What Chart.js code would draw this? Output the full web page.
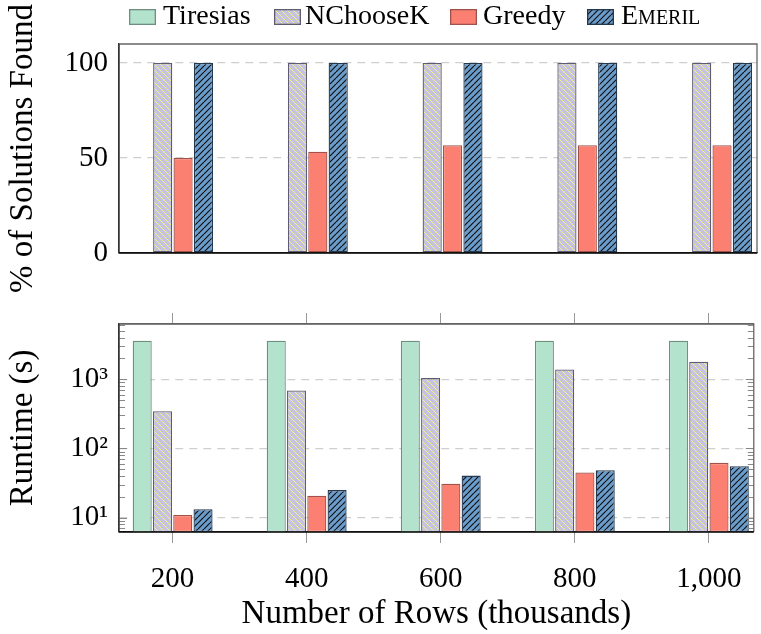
<!DOCTYPE html>
<html>
<head>
<meta charset="utf-8">
<script src="https://cdn.jsdelivr.net/npm/chart.js@4.4.0/dist/chart.umd.min.js"></script>
<style>
  body { margin: 0; background: #fff; }
  #wrap { position: relative; width: 761px; height: 634px; overflow: hidden; font-family: "Liberation Serif", serif; }
  #solved { position: absolute; left: 0; top: 0; }
  #runtime { position: absolute; left: 0; top: 283px; }
  .sw { position: absolute; top: 9px; }
  .lbl { position: absolute; top: 1px; font-size: 28px; line-height: 28px; color: #000; white-space: nowrap; }
  .sc { font-variant: small-caps; }
</style>
</head>
<body>
<div id="wrap">
  <canvas id="solved" width="761" height="300"></canvas>
  <canvas id="runtime" width="761" height="351"></canvas>
  <div id="legend"></div>
</div>
<script>
// rows per table, in thousands
var rows = [200, 400, 600, 800, 1000];

// % of instances where a solution was found
var solvedTiresias = [0, 0, 0, 0, 0];
var solvedNChooseK = [100, 100, 100, 100, 100];
var solvedGreedy = [50, 53.3, 56.7, 56.7, 56.7];
var solvedEmeril = [100, 100, 100, 100, 100];

// runtime in seconds (log axis)
var runtimeTiresias = [3600, 3600, 3600, 3600, 3600];
var runtimeNChooseK = [345, 690, 1040, 1390, 1800];
var runtimeGreedy = [10.9, 20.8, 31, 45, 62];
var runtimeEmeril = [13.2, 25, 40.5, 48.4, 55.3];

var solvedTicks = [0, 50, 100];
var runtimeMajor = [10, 100, 1000];

var F = '"Liberation Serif", serif';
var SUP = {1: '\u00b9', 2: '\u00b2', 3: '\u00b3'};

function hatch(ctx, bg, line, dir, pitch, lw) {
  var c = document.createElement('canvas');
  c.width = pitch; c.height = pitch;
  var g = c.getContext('2d');
  g.fillStyle = bg;
  g.fillRect(0, 0, pitch, pitch);
  g.strokeStyle = line;
  g.lineWidth = lw;
  g.beginPath();
  for (var k = -1; k <= 1; k++) {
    if (dir == 'nw') { g.moveTo(k * pitch, 0); g.lineTo(k * pitch + pitch, pitch); }
    else { g.moveTo(k * pitch, pitch); g.lineTo(k * pitch + pitch, 0); }
  }
  g.stroke();
  return ctx.createPattern(c, 'repeat');
}

function styles(ctx) {
  return [
    {label: 'Tiresias', backgroundColor: '#b3e2cd', borderColor: '#6d8f80'},
    {label: 'NChooseK', backgroundColor: hatch(ctx, '#c6c3df', '#f4f08a', 'nw', 6, 1), borderColor: '#5e5c72'},
    {label: 'Greedy', backgroundColor: '#fb8072', borderColor: '#a0524a'},
    {label: 'Emeril', backgroundColor: hatch(ctx, '#6a9ccc', '#111', 'ne', 6, 1.2), borderColor: '#24384f'}
  ];
}

function buildSets(ctx, series) {
  return styles(ctx).map(function(s, i) {
    s.data = rows.map(function(r, j) { return {x: r, y: series[i][j]}; });
    s.borderWidth = 1.3;
    s.borderSkipped = false;
    s.categoryPercentage = 0.605;
    s.barPercentage = 0.94;
    return s;
  });
}

function setRowTicks(s) { s.ticks = rows.map(function(v) { return {value: v}; }); }

// frame round the plot area
var frame = {
  id: 'frame',
  afterDraw: function(chart) {
    var a = chart.chartArea, g = chart.ctx;
    g.save();
    g.lineWidth = 1.3;
    g.strokeStyle = '#666';
    g.beginPath();
    g.moveTo(a.left, a.top); g.lineTo(a.right, a.top); g.lineTo(a.right, a.bottom);
    g.stroke();
    g.strokeStyle = '#333';
    g.beginPath(); g.moveTo(a.left, a.top); g.lineTo(a.left, a.bottom); g.stroke();
    g.strokeStyle = '#111';
    g.beginPath(); g.moveTo(a.left, a.bottom); g.lineTo(a.right, a.bottom); g.stroke();
    g.restore();
  }
};

// small log ticks drawn inside both side edges
var innerTicks = {
  id: 'innerTicks',
  afterDatasetsDraw: function(chart) {
    var s = chart.scales.y, a = chart.chartArea, g = chart.ctx;
    g.save();
    g.strokeStyle = '#888';
    g.lineWidth = 1;
    s.ticks.forEach(function(t) {
      var y = Math.round(s.getPixelForValue(t.value)) + 0.5;
      var len = runtimeMajor.indexOf(t.value) >= 0 ? 8 : 6;
      g.beginPath();
      g.moveTo(a.left, y); g.lineTo(a.left + len, y);
      g.moveTo(a.right, y); g.lineTo(a.right - len, y);
      g.stroke();
    });
    g.restore();
  }
};

var tickFont = {family: F, size: 29};
var titleFont = {family: F, size: 33};

var ctx1 = document.getElementById('solved').getContext('2d');
new Chart(ctx1, {
  type: 'bar',
  data: {datasets: buildSets(ctx1, [solvedTiresias, solvedNChooseK, solvedGreedy, solvedEmeril])},
  options: {
    responsive: false,
    animation: false,
    layout: {padding: {top: 44, right: 4, left: 0, bottom: 0}},
    plugins: {legend: {display: false}, tooltip: {enabled: false}},
    scales: {
      x: {
        type: 'linear', min: 120, max: 1067, offset: false,
        afterBuildTicks: setRowTicks,
        afterFit: function(s) { s.height = 47; },
        grid: {display: false, offset: false},
        ticks: {display: false},
        border: {color: '#111', width: 1.3}
      },
      y: {
        min: 0, max: 110,
        afterBuildTicks: function(s) { s.ticks = solvedTicks.map(function(v) { return {value: v}; }); },
        afterFit: function(s) { s.width = 119; },
        grid: {color: '#cfcfcf', lineWidth: 1.3, drawTicks: false},
        border: {color: '#333', width: 1.3, dash: [8, 6]},
        ticks: {color: '#000', font: tickFont, padding: 11},
        title: {display: true, text: '% of Solutions Found', color: '#000', font: titleFont, padding: {top: 4, bottom: 0}}
      }
    }
  },
  plugins: [frame]
});

var ctx2 = document.getElementById('runtime').getContext('2d');
new Chart(ctx2, {
  type: 'bar',
  data: {datasets: buildSets(ctx2, [runtimeTiresias, runtimeNChooseK, runtimeGreedy, runtimeEmeril])},
  options: {
    responsive: false,
    animation: false,
    layout: {padding: {top: 30, right: 4, left: 0, bottom: 0}},
    plugins: {legend: {display: false}, tooltip: {enabled: false}},
    scales: {
      x: {
        type: 'linear', min: 120, max: 1067, offset: false, position: 'bottom',
        afterBuildTicks: setRowTicks,
        afterFit: function(s) { s.height = 102; },
        grid: {drawOnChartArea: false, tickLength: 11, color: '#999', offset: false},
        border: {color: '#111', width: 1.3},
        ticks: {color: '#000', font: tickFont, padding: 19, maxRotation: 0, autoSkip: false,
          callback: function(v) { return v.toLocaleString('en-US'); }},
        title: {display: true, text: 'Number of Rows (thousands)', color: '#000', font: titleFont, padding: {top: 0, bottom: 0}}
      },
      x2: {
        type: 'linear', min: 120, max: 1067, offset: false, position: 'top',
        afterBuildTicks: setRowTicks,
        afterFit: function(s) { s.height = 11; },
        grid: {drawOnChartArea: false, tickLength: 11, color: '#999', offset: false},
        ticks: {display: false},
        border: {color: '#666', width: 1.3}
      },
      y: {
        type: 'logarithmic', min: 6.2, max: 6300,
        afterBuildTicks: function(s) {
          var t = [];
          for (var e = 0; e <= 3; e++) {
            for (var m = 1; m <= 9; m++) {
              var v = m * Math.pow(10, e);
              if (v >= s.min && v <= s.max) t.push({value: v});
            }
          }
          s.ticks = t;
        },
        afterFit: function(s) { s.width = 119; },
        grid: {
          color: function(c) { return c.tick && runtimeMajor.indexOf(c.tick.value) >= 0 ? '#cfcfcf' : 'rgba(0,0,0,0)'; },
          lineWidth: 1.3, drawTicks: false
        },
        border: {color: '#333', width: 1.3, dash: [8, 6]},
        ticks: {color: '#000', font: tickFont, padding: 11, autoSkip: false,
          callback: function(v) {
            return runtimeMajor.indexOf(v) >= 0 ? '10' + SUP[Math.round(Math.log10(v))] : '';
          }},
        title: {display: true, text: 'Runtime (s)', color: '#000', font: titleFont, padding: {top: 4, bottom: 0}}
      }
    }
  },
  plugins: [innerTicks, frame]
});

// legend across the top
var legendPos = [
  {sw: 129, txt: 163},
  {sw: 274, txt: 305},
  {sw: 450, txt: 483},
  {sw: 587, txt: 621}
];
var legend = document.getElementById('legend');
styles(ctx1).forEach(function(s, i) {
  var c = document.createElement('canvas');
  c.width = 27; c.height = 16;
  c.className = 'sw';
  c.style.left = legendPos[i].sw + 'px';
  var g = c.getContext('2d');
  var pat = i == 1 ? hatch(g, '#c6c3df', '#f4f08a', 'nw', 6, 1) : i == 3 ? hatch(g, '#6a9ccc', '#111', 'ne', 6, 1.2) : s.backgroundColor;
  g.fillStyle = pat;
  g.fillRect(0, 0, 27, 16);
  g.strokeStyle = s.borderColor;
  g.lineWidth = 1.3;
  g.strokeRect(0.65, 0.65, 25.7, 14.7);
  legend.appendChild(c);
  var t = document.createElement('span');
  t.className = 'lbl' + (i == 3 ? ' sc' : '');
  t.style.left = legendPos[i].txt + 'px';
  t.textContent = s.label;
  legend.appendChild(t);
});
</script>
</body>
</html>
